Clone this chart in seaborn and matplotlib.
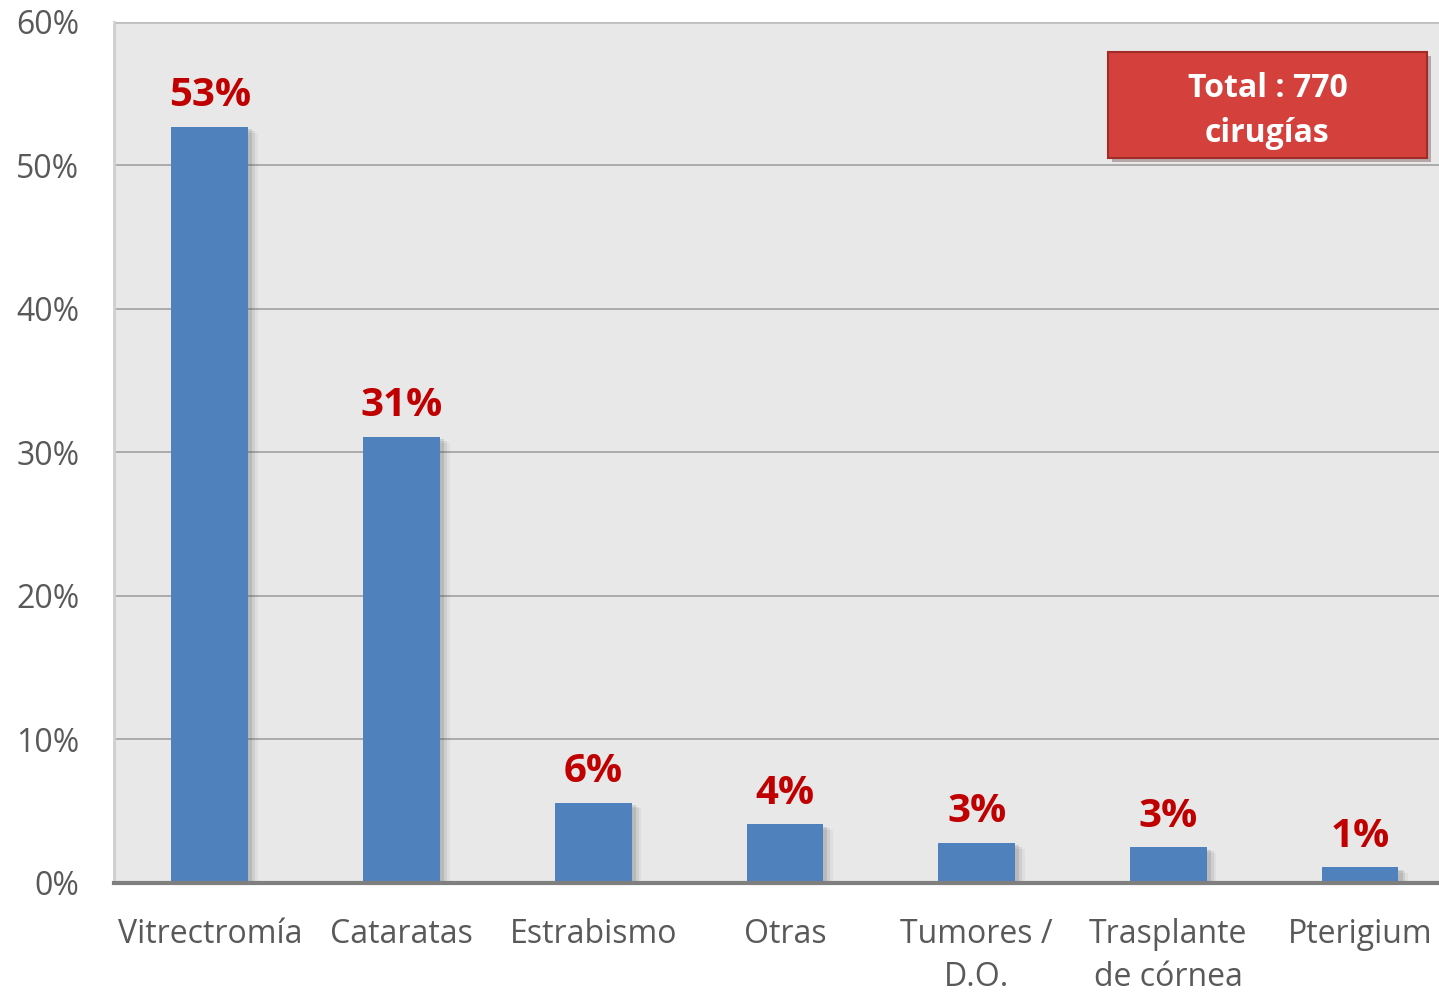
import numpy as np
import pandas as pd
import matplotlib.pyplot as plt
import matplotlib.patheffects as pe
from matplotlib.patches import Rectangle
import seaborn as sns

categorias = ["Vitrectromía", "Cataratas", "Estrabismo", "Otras",
              "Tumores /\nD.O.", "Trasplante\nde córnea", "Pterigium"]
porcentajes = [52.7, 31.1, 5.6, 4.1, 2.8, 2.5, 1.1]
etiquetas = ["53%", "31%", "6%", "4%", "3%", "3%", "1%"]
y_ticks = [0, 10, 20, 30, 40, 50, 60]
total_txt = "Total : 770\ncirugías"

df = pd.DataFrame({"Cirugia": categorias, "Porcentaje": porcentajes})

sns.set_style("white")
plt.rcParams["font.family"] = ["Open Sans", "DejaVu Sans"]

fig = plt.figure(figsize=(14.39, 9.94), dpi=100)
# el área del gráfico sigue un poco más allá del borde derecho
ax = fig.add_axes([0.0792, 0.1117, 0.9326, 0.8662])
ax.set_facecolor("#E8E8E8")

sns.barplot(data=df, x="Cirugia", y="Porcentaje", color="#4F81BD",
            saturation=1, width=0.40, linewidth=0, ax=ax, zorder=3)
sombra = [pe.SimplePatchShadow(offset=(o, -o * 0.6), shadow_rgbFace="#444444", alpha=a)
          for o, a in [(7, 0.06), (5, 0.1), (3, 0.15)]]
for bar in ax.patches:
    bar.set_path_effects(sombra + [pe.Normal()])

for i, (v, lab) in enumerate(zip(porcentajes, etiquetas)):
    ax.text(i, v + 0.8, lab, ha="center", va="bottom", color="#C00000",
            fontsize=29, fontweight="bold", zorder=4)

ax.set_ylim(0, 60)
ax.set_xlim(-0.5, len(categorias) - 0.5)
ax.set_yticks(y_ticks)
ax.set_yticklabels([f"{t}%" for t in y_ticks])
ax.yaxis.grid(True, color="#A6A6A6", linewidth=1.3, zorder=0)
ax.set_axisbelow(True)

ax.tick_params(axis="y", labelsize=23, labelcolor="#595959", length=14,
               color="#E0E0E0", pad=11)
ax.tick_params(axis="x", labelsize=23, labelcolor="#595959", length=0, pad=25)
for t in ax.get_xticklabels():
    t.set_linespacing(1.4)
ax.set_xticks(np.arange(-0.5, len(categorias), 1), minor=True)
ax.tick_params(axis="x", which="minor", length=14, color="#E0E0E0")
ax.set_xlabel("")
ax.set_ylabel("")

for s in ["top", "right"]:
    ax.spines[s].set_visible(False)
ax.spines["left"].set_color("#CFCFCF")
ax.spines["left"].set_linewidth(2)
ax.spines["bottom"].set_color("#7F7F7F")
ax.spines["bottom"].set_linewidth(3)
ax.spines["bottom"].set_zorder(5)
ax.axhline(60, color="#BFBFBF", linewidth=2, zorder=1)

box = Rectangle((0.7407, 0.842), 0.2377, 0.123, transform=ax.transAxes,
                facecolor="#D4403C", edgecolor="#A02B28", linewidth=1.5, zorder=6,
                path_effects=[pe.SimplePatchShadow(offset=(3, -3), alpha=0.3), pe.Normal()])
ax.add_patch(box)
ax.text(0.7407 + 0.2377 / 2, 0.8965, total_txt, transform=ax.transAxes, ha="center",
        va="center", color="white", fontsize=23, fontweight="bold", linespacing=1.5, zorder=7)

fig.savefig("out.png", dpi=100)
